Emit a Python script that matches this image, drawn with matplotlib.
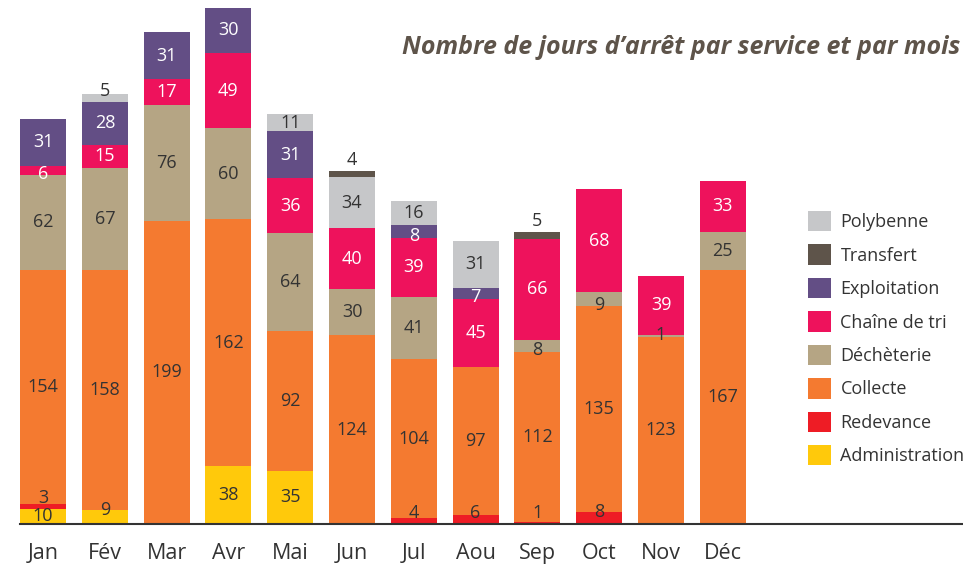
import numpy as np
import matplotlib.pyplot as plt
from matplotlib.patches import Patch

plt.rcParams['font.family'] = ['Open Sans', 'DejaVu Sans']

months = ['Jan', 'Fév', 'Mar', 'Avr', 'Mai', 'Jun', 'Jul', 'Aou', 'Sep', 'Oct', 'Nov', 'Déc']

# stacking order, bottom to top
administration = [10, 9, 0, 38, 35, 0, 0, 0, 0, 0, 0, 0]
redevance      = [3, 0, 0, 0, 0, 0, 4, 6, 1, 8, 0, 0]
collecte       = [154, 158, 199, 162, 92, 124, 104, 97, 112, 135, 123, 167]
decheterie     = [62, 67, 76, 60, 64, 30, 41, 0, 8, 9, 1, 25]
chaine_tri     = [6, 15, 17, 49, 36, 40, 39, 45, 66, 68, 39, 33]
exploitation   = [31, 28, 31, 30, 31, 0, 8, 7, 0, 0, 0, 0]
polybenne      = [0, 5, 0, 0, 11, 34, 16, 31, 0, 0, 0, 0]
transfert      = [0, 0, 0, 0, 0, 4, 0, 0, 5, 0, 0, 0]

series = [
    ('Administration', administration, '#ffc90b', '#333333'),
    ('Redevance', redevance, '#ee1c25', '#333333'),
    ('Collecte', collecte, '#f47a30', '#333333'),
    ('Déchèterie', decheterie, '#b5a584', '#333333'),
    ('Chaîne de tri', chaine_tri, '#ee125c', 'white'),
    ('Exploitation', exploitation, '#634e85', 'white'),
    ('Polybenne', polybenne, '#c6c7c9', '#333333'),
    ('Transfert', transfert, '#5e544a', '#333333'),
]
legend_order = ['Polybenne', 'Transfert', 'Exploitation', 'Chaîne de tri',
                'Déchèterie', 'Collecte', 'Redevance', 'Administration']

fig = plt.figure(figsize=(9.63, 5.65), dpi=100)
ax = fig.add_axes([20 / 963, 41 / 565, 1 - 20 / 963, 1 - 41 / 565])

x = np.arange(len(months))
width = 0.745
bottom = np.zeros(len(months))
totals = np.sum([s[1] for s in series], axis=0)

for name, vals, color, tcolor in series:
    vals = np.array(vals, dtype=float)
    ax.bar(x, vals, width, bottom=bottom, color=color, linewidth=0, label=name)
    for i, v in enumerate(vals):
        if v == 0:
            continue
        b = bottom[i]
        is_top = np.isclose(b + v, totals[i])
        if name == 'Transfert':
            y = b + v + 7
        elif name in ('Redevance', 'Administration') or is_top:
            y = b + max(v, 7) if v < 10 else b + v / 2
        elif v < 10:
            y = b + 1
        else:
            y = b + v / 2
        ax.text(x[i], y, f'{int(v)}', ha='center', va='center',
                fontsize=13, color=tcolor)
    bottom += vals

ax.set_xlim(-width / 2, -width / 2 + 943 / 61.8)
ax.set_ylim(0, 344)
ax.set_xticks(x)
ax.set_xticklabels(months, fontsize=15.5, color='#333333')
ax.tick_params(axis='x', length=0, pad=14)
ax.set_yticks([])
for s in ['top', 'left', 'right']:
    ax.spines[s].set_visible(False)
ax.spines['bottom'].set_color('#333333')
ax.spines['bottom'].set_linewidth(1.5)

colors = {n: c for n, _, c, _ in series}
handles = [Patch(facecolor=colors[n], edgecolor='none', label=n) for n in legend_order]
fig.legend(handles=handles, loc='upper left', bbox_to_anchor=(808 / 963, 1 - 211 / 565),
           frameon=False, fontsize=13, handlelength=1.3, handleheight=1.35,
           handletextpad=0.5, labelspacing=0.73, borderpad=0, borderaxespad=0,
           labelcolor='#333333')

fig.text(402 / 963, 1 - 48 / 565, 'Nombre de jours d’arrêt par service et par mois',
         ha='left', va='center', fontsize=18, fontweight='bold', fontstyle='italic',
         color='#5e544a')

fig.savefig('out.png', dpi=100)
